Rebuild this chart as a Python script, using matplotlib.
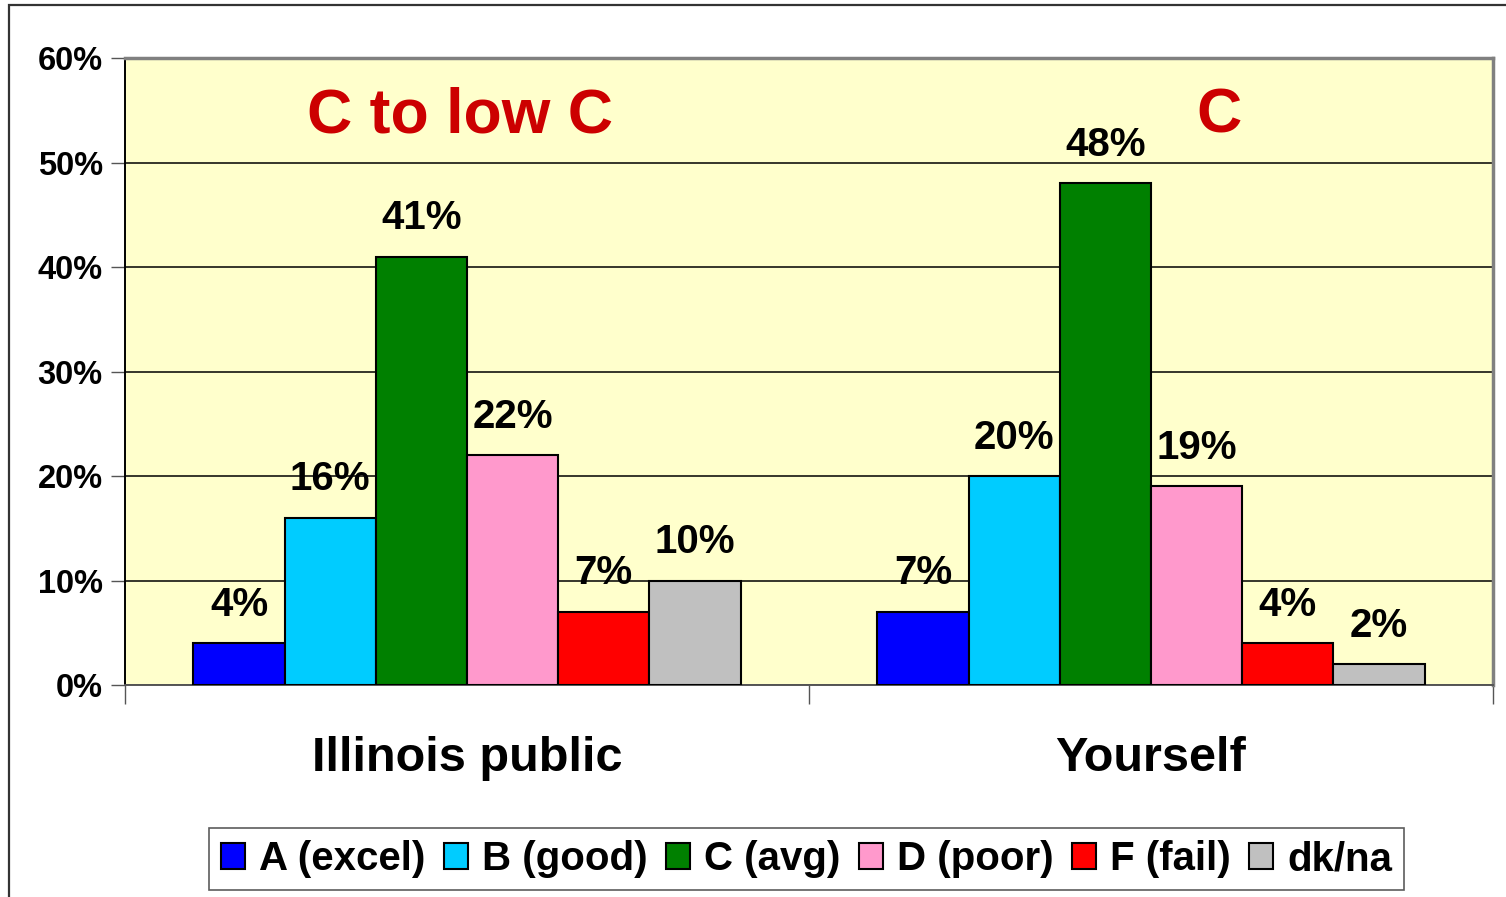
import numpy as np
import matplotlib
matplotlib.use("Agg")
import matplotlib.pyplot as plt
from matplotlib.patches import Patch, Rectangle

plt.rcParams["font.family"] = ["Liberation Sans", "DejaVu Sans"]
plt.rcParams["font.weight"] = "bold"

groups = ["Illinois public", "Yourself"]
grades = ["A (excel)", "B (good)", "C (avg)", "D (poor)", "F (fail)", "dk/na"]
colors = ["#0000FF", "#00CCFF", "#008000", "#FF99CC", "#FF0000", "#C0C0C0"]
values = {
    "Illinois public": [4, 16, 41, 22, 7, 10],
    "Yourself": [7, 20, 48, 19, 4, 2],
}
summaries = ["C to low C", "C"]

fig = plt.figure(figsize=(15.06, 8.97), dpi=100)
ax = fig.add_axes([0.0830, 0.2363, 0.9084, 0.699])
ax.set_facecolor("#FFFFCC")

# outer frame of the slide graphic
fig.add_artist(Rectangle((9 / 1506, -0.05), 1.1, 1 - 5 / 897 + 0.05,
                         transform=fig.transFigure, fill=False,
                         edgecolor="#333333", lw=1.6))

x = np.arange(len(groups))
w = 0.8 / len(grades)
for i, (g, c) in enumerate(zip(grades, colors)):
    vals = [values[grp][i] for grp in groups]
    pos = x - 0.4 + w * (i + 0.5)
    ax.bar(pos, vals, w, color=c, edgecolor="black", linewidth=1.5, zorder=3)
    for p, v in zip(pos, vals):
        ax.annotate(f"{v}%", (p, v), xytext=(0, 14), textcoords="offset points",
                    ha="center", va="bottom", fontsize=29, fontweight="bold")

for xi, s, dx in zip(x, summaries, [-0.01, 0.1]):
    ax.text(xi + dx, 54.5, s, color="#CC0000", fontsize=45, fontweight="bold",
            ha="center", va="center")

ax.set_xlim(-0.5, 1.5)
ax.set_ylim(0, 60)
ax.set_yticks(range(0, 61, 10))
ax.set_yticklabels([f"{t}%" for t in range(0, 61, 10)], fontsize=23.5,
                   fontweight="bold")
ax.yaxis.grid(True, color="black", lw=1.1)
ax.set_axisbelow(True)

ax.set_xticks([-0.5, 0.5, 1.5])
ax.set_xticklabels([])
ax.tick_params(axis="x", length=14, width=1, color="#555555", direction="out")
ax.tick_params(axis="y", length=10, width=1, color="#555555", direction="out",
               pad=6)
for xi, g in zip(x, groups):
    ax.text(xi, -7, g, ha="center", va="center", fontsize=35,
            fontweight="bold", transform=ax.transData)

ax.spines["left"].set_color("black")
ax.spines["left"].set_linewidth(1.4)
ax.spines["bottom"].set_color("#555555")
ax.spines["bottom"].set_linewidth(1.4)
for s in ("top", "right"):
    ax.spines[s].set_color("#808080")
    ax.spines[s].set_linewidth(2.5)

handles = [Patch(facecolor=c, edgecolor="black", linewidth=1.5) for c in colors]
leg = fig.legend(handles, grades, loc="center", ncol=6,
                 bbox_to_anchor=(0.5355, 0.0420),
                 prop={"weight": "bold", "size": 29},
                 handlelength=0.6, handleheight=0.6, handletextpad=0.35,
                 columnspacing=0.45, borderpad=0.3, frameon=True,
                 fancybox=False)
leg.get_frame().set_edgecolor("#333333")
leg.get_frame().set_linewidth(1.2)

fig.savefig("out.png", dpi=100)
